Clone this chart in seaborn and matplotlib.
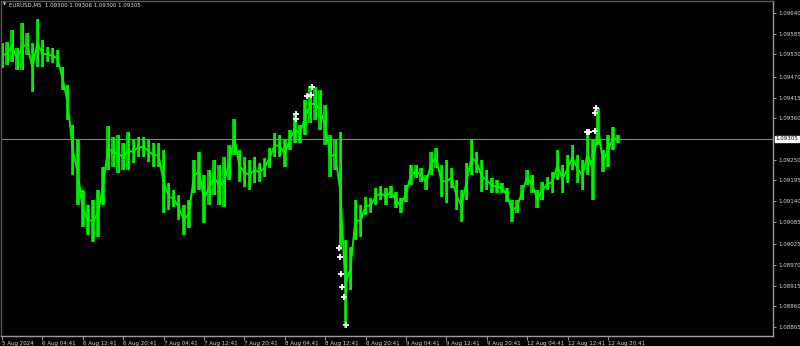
import matplotlib
matplotlib.use("Agg")
import matplotlib.pyplot as plt
import seaborn as sns
import numpy as np
import pandas as pd

# ---- data (hourly aggregated highs / lows of the EURUSD M5 chart) ----
bar_high = [1.09560, 1.09563, 1.09595, 1.09547, 1.09613, 1.09587, 1.09560, 1.09624, 1.09568, 1.09550,
            1.09547, 1.09542, 1.09496, 1.09449, 1.09342, 1.09302, 1.09169, 1.09129, 1.09143, 1.09169,
            1.09230, 1.09339, 1.09310, 1.09316, 1.09294, 1.09324, 1.09302, 1.09310, 1.09310, 1.09302,
            1.09294, 1.09294, 1.09276, 1.09188, 1.09169, 1.09156, 1.09129, 1.09143, 1.09249, 1.09270,
            1.09209, 1.09222, 1.09249, 1.09236, 1.09257, 1.09289, 1.09358, 1.09276, 1.09257, 1.09249,
            1.09257, 1.09241, 1.09254, 1.09281, 1.09321, 1.09316, 1.09302, 1.09329, 1.09369, 1.09342,
            1.09409, 1.09446, 1.09443, 1.09435, 1.09395, 1.09316, 1.09302, 1.09324, 1.09036, 1.09018,
            1.09143, 1.09129, 1.09151, 1.09148, 1.09175, 1.09180, 1.09175, 1.09180, 1.09164, 1.09148,
            1.09183, 1.09236, 1.09236, 1.09228, 1.09209, 1.09270, 1.09281, 1.09236, 1.09249, 1.09228,
            1.09196, 1.09169, 1.09241, 1.09305, 1.09270, 1.09249, 1.09222, 1.09201, 1.09196, 1.09188,
            1.09175, 1.09143, 1.09143, 1.09183, 1.09222, 1.09209, 1.09169, 1.09191, 1.09204, 1.09217,
            1.09276, 1.09236, 1.09262, 1.09289, 1.09262, 1.09249, 1.09324, 1.09302, 1.09387, 1.09276,
            1.09316, 1.09337, 1.09316]
bar_low = [1.09494, 1.09502, 1.09510, 1.09488, 1.09488, 1.09528, 1.09430, 1.09496, 1.09496, 1.09510,
           1.09507, 1.09496, 1.09435, 1.09355, 1.09209, 1.09129, 1.09071, 1.09050, 1.09031, 1.09044,
           1.09129, 1.09222, 1.09230, 1.09214, 1.09222, 1.09222, 1.09241, 1.09257, 1.09257, 1.09244,
           1.09230, 1.09230, 1.09108, 1.09116, 1.09124, 1.09089, 1.09050, 1.09068, 1.09161, 1.09169,
           1.09081, 1.09129, 1.09156, 1.09129, 1.09124, 1.09196, 1.09262, 1.09191, 1.09177, 1.09169,
           1.09188, 1.09191, 1.09204, 1.09228, 1.09257, 1.09257, 1.09230, 1.09276, 1.09294, 1.09294,
           1.09316, 1.09347, 1.09355, 1.09329, 1.09289, 1.09204, 1.09222, 1.09010, 1.08802, 1.08903,
           1.09036, 1.09044, 1.09103, 1.09108, 1.09129, 1.09143, 1.09129, 1.09148, 1.09121, 1.09108,
           1.09137, 1.09183, 1.09201, 1.09191, 1.09169, 1.09209, 1.09228, 1.09151, 1.09135, 1.09175,
           1.09116, 1.09084, 1.09143, 1.09209, 1.09214, 1.09164, 1.09169, 1.09161, 1.09161, 1.09161,
           1.09137, 1.09084, 1.09108, 1.09143, 1.09183, 1.09161, 1.09121, 1.09143, 1.09169, 1.09161,
           1.09196, 1.09161, 1.09188, 1.09222, 1.09188, 1.09169, 1.09209, 1.09143, 1.09289, 1.09217,
           1.09230, 1.09276, 1.09294]

# trade / signal markers (position in hours from chart start, price)
mark_hour = [58.2, 58.2, 60.4, 61.2, 61.4, 66.8, 66.9, 67.1, 67.3, 67.8, 68.1,
             115.9, 116.2, 117.4, 117.5, 117.6]
mark_price = [1.09371, 1.09358, 1.09419, 1.09422, 1.09443, 1.09015, 1.08991, 1.08946, 1.08911,
              1.08885, 1.08810, 1.09324, 1.09324, 1.09326, 1.09374, 1.09387]

last_price = 1.09305
title_text = "EURUSD,M5  1.09300 1.09306 1.09300 1.09305"

price_ticks = [1.09640, 1.09585, 1.09530, 1.09470, 1.09415, 1.09360, 1.09250, 1.09195,
               1.09140, 1.09085, 1.09025, 1.08970, 1.08915, 1.08860, 1.08805]
time_tick_hours = [0, 8, 16, 24, 32, 40, 48, 56, 64, 72, 80, 88, 96, 104, 112, 120]
time_tick_labels = ["5 Aug 2024", "6 Aug 04:41", "6 Aug 12:41", "6 Aug 20:41", "7 Aug 04:41",
                    "7 Aug 12:41", "7 Aug 20:41", "8 Aug 04:41", "8 Aug 12:41", "8 Aug 20:41",
                    "9 Aug 04:41", "9 Aug 12:41", "9 Aug 20:41", "12 Aug 04:41", "12 Aug 12:41",
                    "12 Aug 20:41"]

# ---- style ----
sns.set_theme(style="dark", rc={"axes.facecolor": "black", "figure.facecolor": "black",
                                "axes.edgecolor": "#8c8c8c", "axes.grid": False})
plt.rcParams["font.family"] = ["DejaVu Sans"]
plt.rcParams["font.stretch"] = "condensed"

W, H = 800, 346
fig = plt.figure(figsize=(W / 100, H / 100), dpi=100)
ax = fig.add_axes([1 / W, 10 / H, 772 / W, 335 / H])
ax.set_facecolor("black")

df = pd.DataFrame({"hour": np.arange(len(bar_high)), "high": bar_high, "low": bar_low})
df["mid"] = (df["high"] + df["low"]) / 2
ax.bar(df["hour"], df["high"] - df["low"], bottom=df["low"], width=0.7,
       color="#00c400", linewidth=0, antialiased=True)
ax.vlines(df["hour"] + 0.1, df["low"], df["high"], color="#00ff00", linewidth=1.1)
sns.lineplot(data=df, x="hour", y="mid", color="#00f000", linewidth=1.4, ax=ax,
             estimator=None, legend=False)

# last price line
ax.axhline(last_price, color="#7f8591", linewidth=0.8, zorder=1)

# markers
mdf = pd.DataFrame({"hour": mark_hour, "price": mark_price})
sns.scatterplot(data=mdf, x="hour", y="price", marker="+", s=22, color="white",
                linewidth=1.3, ax=ax, zorder=5, legend=False)

ax.set_xlim(-0.2, 152.7)
ax.set_ylim(1.08781, 1.09672)

# axes styling
for side in ["top", "left"]:
    ax.spines[side].set_color("#5a5a5a")
    ax.spines[side].set_linewidth(1.0)
for side in ["right", "bottom"]:
    ax.spines[side].set_color("#9a9a9a")
    ax.spines[side].set_linewidth(1.0)

ax.yaxis.tick_right()
ax.set_yticks(price_ticks)
ax.set_yticklabels([f"{v:.5f}" for v in price_ticks])
ax.set_xticks(time_tick_hours)
ax.set_xticklabels(time_tick_labels, ha="left")
ax.tick_params(axis="y", which="both", right=True, left=False, length=2.5, width=0.7,
               color="#9a9a9a", labelcolor="#d8d8d8", labelsize=4.4, pad=1.2)
ax.tick_params(axis="x", which="both", bottom=True, length=3, width=0.7,
               color="#9a9a9a", labelcolor="#d8d8d8", labelsize=4.4, pad=0.8)
ax.set_xlabel("")
ax.set_ylabel("")

# current price box
ax.annotate(f"{last_price:.5f}", xy=(1.0, last_price), xycoords=("axes fraction", "data"),
            xytext=(1.8, 0), textcoords="offset points", ha="left", va="center",
            fontsize=4.4, color="black",
            bbox=dict(boxstyle="square,pad=0.15", facecolor="white", edgecolor="white"),
            annotation_clip=False)

# title
fig.text(3 / W, 1 - 5 / H, "\u25bc", fontsize=3.2, color="#e0e0e0", va="center", ha="left")
fig.text(9 / W, 1 - 5 / H, title_text, fontsize=4.3, color="#e0e0e0", va="center", ha="left")

fig.savefig("out.png", dpi=100, facecolor="black")
